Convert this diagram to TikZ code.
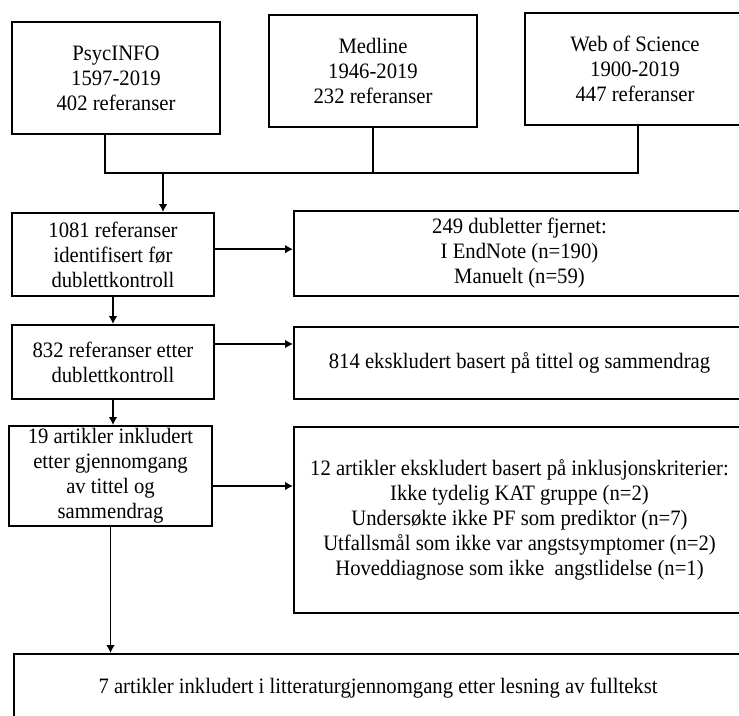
\documentclass[tikz,border=0pt]{standalone}
\usepackage{fontspec}
\setmainfont{Liberation Serif}[FakeStretch=0.94]
\usepackage{tikz}
\usetikzlibrary{arrows.meta}

\begin{document}
\begin{tikzpicture}[
    x=0.75pt, y=-0.75pt,
    font=\fontsize{16.5}{18.8}\selectfont,
    >={Latex[length=6pt, width=6.5pt]},
    line width=1.4pt,
    box/.style={
        draw,
        align=center,
        inner sep=0pt
    }
]

\useasboundingbox (0,0) rectangle (739,716);
\clip (0,0) rectangle (739,716);

% ==================== Databases ====================
\node[box, minimum width=156pt, minimum height=84pt] (src1) at (116,78)
    {PsycINFO\\1597-2019\\402 referanser};
\node[box, minimum width=156pt, minimum height=84pt] (src2) at (373,71)
    {Medline\\1946-2019\\232 referanser};
\node[box, minimum width=165pt, minimum height=84pt] (src3) at (635,69)
    {Web of Science\\1900-2019\\447 referanser};

\coordinate (t1) at (105,173);
\coordinate (t3) at (638,173);
\coordinate (j)  at (163,173);

\draw (src1.south -| t1) -- (t1) -- (t3) -- (src3.south -| t3);
\draw (src2.south) -- (src2.south |- t1);

% ==================== Main column ====================
\node[box, minimum width=151.5pt, minimum height=62.25pt] (m1) at (113,254.5)
    {1081 referanser\\identifisert før\\dublettkontroll};
\node[box, minimum width=151.5pt, minimum height=55.5pt] (m2) at (113,362)
    {832 referanser etter\\dublettkontroll};
\node[box, minimum width=152.25pt, minimum height=75pt] (m3) at (110.5,476)
    {19 artikler inkludert\\etter gjennomgang\\av tittel og\\sammendrag};
\node[box, minimum width=546pt, minimum height=51pt] (m4) at (378,688)
    {7 artikler inkludert i litteraturgjennomgang etter lesning av fulltekst};

% ==================== Excluded ====================
\node[box, minimum width=338.25pt, minimum height=63.75pt] (e1) at (519.5,253.5)
    {249 dubletter fjernet:\\I EndNote (n=190)\\Manuelt (n=59)};
\node[box, minimum width=338.25pt, minimum height=54pt] (e2) at (519.5,363)
    {814 ekskludert basert på tittel og sammendrag};
\node[box, minimum width=338.25pt, minimum height=139.5pt] (e3) at (519.5,520)
    {12 artikler ekskludert basert på inklusjonskriterier:\\
     Ikke tydelig KAT gruppe (n=2)\\
     Undersøkte ikke PF som prediktor (n=7)\\
     Utfallsmål som ikke var angstsymptomer (n=2)\\
     Hoveddiagnose som ikke\ \ angstlidelse (n=1)};

% ==================== Arrows ====================
\draw[->] (j) -- (m1.north -| j);
\draw[->] (m1) -- (m2);
\draw[->] (m2.south) -- (m2.south |- m3.north);
\draw[->] (m3.south) -- (m3.south |- m4.north);

\coordinate (a1) at ([yshift=4pt]m1.east);
\coordinate (a2) at ([yshift=13.5pt]m2.east);
\coordinate (a3) at ([yshift=-7.5pt]m3.east);

\draw[->] (a1) -- (a1 -| e1.west);
\draw[->] (a2) -- (a2 -| e2.west);
\draw[->] (a3) -- (a3 -| e3.west);

\end{tikzpicture}
\end{document}
